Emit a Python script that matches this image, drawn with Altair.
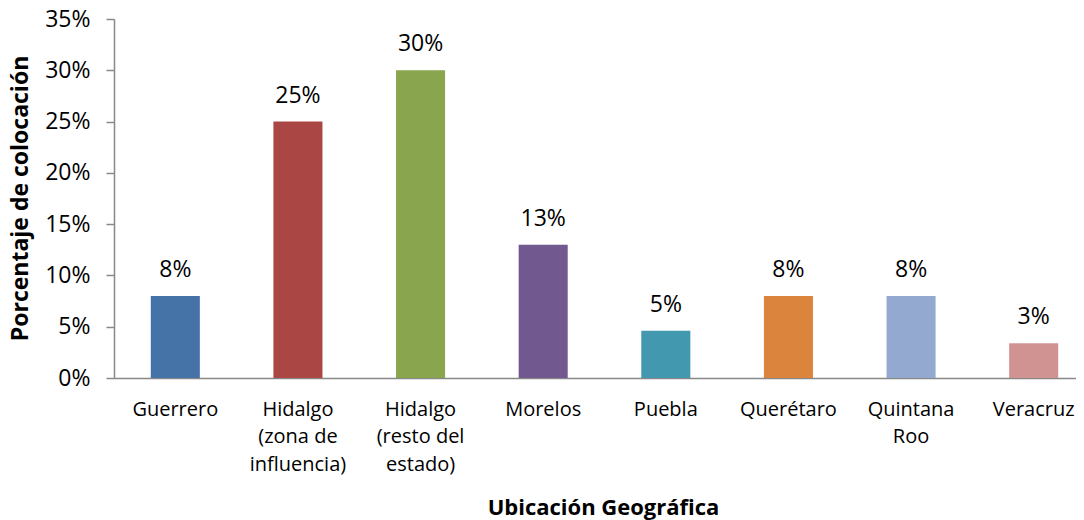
import altair as alt
import pandas as pd

categories = ["Guerrero", "Hidalgo\n(zona de\ninfluencia)", "Hidalgo\n(resto del\nestado)", "Morelos",
              "Puebla", "Querétaro", "Quintana\nRoo", "Veracruz"]
values = [0.08, 0.25, 0.30, 0.13, 0.046, 0.08, 0.08, 0.034]
labels = ["8%", "25%", "30%", "13%", "5%", "8%", "8%", "3%"]
colors = ["#4572A7", "#AA4643", "#89A54E", "#71588F", "#4198AF", "#DB843D", "#93A9CF", "#D19392"]
y_ticks = [0, 0.05, 0.10, 0.15, 0.20, 0.25, 0.30, 0.35]

df = pd.DataFrame({"cat": categories, "val": values, "label": labels, "color": colors})

FONT = "Open Sans"

x_scale = alt.Scale(paddingInner=0.6, paddingOuter=0.3, range=[0, 981])

x_enc = alt.X(
    "cat:N", sort=categories,
    scale=x_scale,
    axis=alt.Axis(
        title="Ubicación Geográfica", labelAngle=0, ticks=False, tickSize=0,
        labelExpr="split(datum.label, '\\n')", labelLineHeight=27.5,
        labelBaseline="top", labelPadding=21, labelFontSize=20, labelFont=FONT,
        labelColor="#000000", domainColor="#888888", domainWidth=1.5,
        titleFont=FONT, titleFontSize=22, titleFontWeight="bold", titleColor="#000000",
        titleX=489, titleY=129, titleBaseline="middle", titleAlign="center",
    ),
)
y_enc = alt.Y(
    "val:Q",
    scale=alt.Scale(domain=[0, 0.35], nice=False),
    axis=alt.Axis(
        title="Porcentaje de colocación", values=y_ticks, format=".0%", grid=False,
        tickSize=8, tickColor="#888888", tickWidth=1.5, domainColor="#888888", domainWidth=1.5,
        labelPadding=16, labelFontSize=23, labelFont=FONT, labelColor="#000000",
        titleFont=FONT, titleFontSize=23, titleFontWeight="bold", titleColor="#000000",
        titleAngle=-90, titleX=-94, titleY=179, titleBaseline="middle", titleAlign="center",
    ),
)

bars = alt.Chart(df).mark_bar().encode(
    x=x_enc, y=y_enc,
    color=alt.Color("color:N", scale=None),
)
text = alt.Chart(df).mark_text(
    baseline="alphabetic", dy=-19, fontSize=23, font=FONT, color="#000000"
).encode(
    x=alt.X("cat:N", sort=categories, scale=x_scale), y="val:Q", text="label:N"
)

chart = (bars + text).properties(
    width=962, height=359,
    autosize=alt.AutoSizeParams(type="none"),
    padding={"left": 106, "top": 11, "right": 0, "bottom": 142},
).configure_view(stroke=None)

chart.save("out.html", embed_options={"renderer": "svg", "actions": False})
